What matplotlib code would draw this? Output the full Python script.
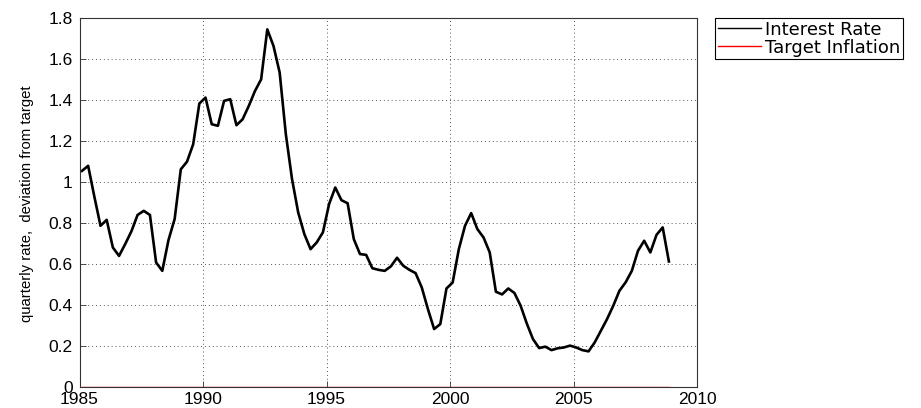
import numpy as np
import matplotlib
matplotlib.use("Agg")
import matplotlib.pyplot as plt
from matplotlib.ticker import FormatStrFormatter

# quarterly observations, starting early 1985
start_year = 1985.1
interest_rate = [
    1.055, 1.08, 0.93, 0.787, 0.816, 0.681, 0.64, 0.698, 0.76, 0.84,
    0.86, 0.84, 0.608, 0.567, 0.717, 0.82, 1.063, 1.10, 1.185, 1.384,
    1.413, 1.283, 1.275, 1.397, 1.405, 1.278, 1.307, 1.372, 1.445, 1.502,
    1.746, 1.665, 1.535, 1.234, 1.015, 0.852, 0.746, 0.673, 0.706, 0.755,
    0.893, 0.974, 0.912, 0.897, 0.722, 0.649, 0.645, 0.58, 0.572, 0.567,
    0.589, 0.631, 0.592, 0.572, 0.556, 0.486, 0.38, 0.283, 0.307, 0.481,
    0.51, 0.673, 0.787, 0.849, 0.771, 0.73, 0.657, 0.465, 0.452, 0.481,
    0.459, 0.397, 0.31, 0.234, 0.19, 0.197, 0.18, 0.189, 0.193, 0.202,
    0.193, 0.18, 0.174, 0.218, 0.275, 0.332, 0.397, 0.47, 0.511, 0.567,
    0.665, 0.714, 0.657, 0.743, 0.779, 0.613,
]
target_inflation = [0.0] * len(interest_rate)
years = start_year + 0.25 * np.arange(len(interest_rate))

x_ticks = [1985, 1990, 1995, 2000, 2005, 2010]
y_ticks = [0, 0.2, 0.4, 0.6, 0.8, 1.0, 1.2, 1.4, 1.6, 1.8]

W, H = 921, 408
fig = plt.figure(figsize=(W / 100, H / 100), dpi=100)
ax = fig.add_axes([79.5 / W, 1 - 387 / H, (697.3 - 79.5) / W, (387 - 18.3) / H])

l1, = ax.plot(years, interest_rate, color="black", lw=1.9, label="Interest Rate")
l2, = ax.plot(years, target_inflation, color="#ff0000", lw=1.0, label="Target Inflation")

ax.set_xlim(1985, 2010)
ax.set_ylim(0, 1.8)
ax.set_xticks(x_ticks)
ax.set_yticks(y_ticks)
ax.yaxis.set_major_formatter(FormatStrFormatter("%g"))
ax.grid(True, linestyle=(0, (1, 3)), color="#555555", lw=0.7)
for s in ax.spines.values():
    s.set_color("#333333")
    s.set_linewidth(0.8)
ax.tick_params(direction="in", length=4, width=0.6, colors="#333333",
               labelcolor="black", labelsize=12.5)
ax.tick_params(axis="x", pad=3.5)
ax.tick_params(axis="y", pad=5)
for lab in ax.get_xticklabels() + ax.get_yticklabels():
    lab.set_fontfamily(["Liberation Sans", "DejaVu Sans"])

ax.set_ylabel("quarterly rate,  deviation from target",
              fontsize=10.7, family=["Liberation Sans", "DejaVu Sans"])
ax.yaxis.set_label_coords(34 / W, 0.5, transform=fig.transFigure)

leg = fig.legend(handles=[l1, l2], loc="upper left",
                 bbox_to_anchor=(715 / W, 1 - 18 / H),
                 fancybox=False, framealpha=1, edgecolor="black",
                 borderpad=0.15, borderaxespad=0, handlelength=2.4,
                 handletextpad=0.2, labelspacing=0.0,
                 prop={"family": ["DejaVu Sans"], "size": 13})
leg.get_frame().set_linewidth(0.8)
for h in leg.legend_handles:
    h.set_linewidth(1.0)

fig.savefig("out.png", dpi=100)
